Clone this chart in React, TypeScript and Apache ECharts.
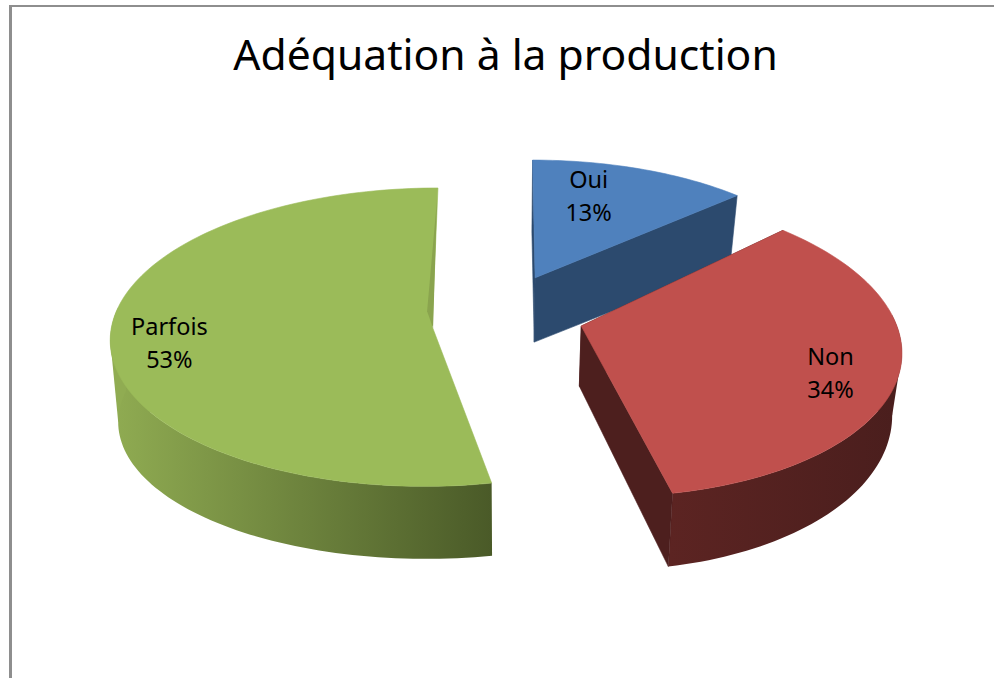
import React, { useEffect, useRef } from "react";
import * as echarts from "echarts";

const TITLE = "Adéquation à la production";
const CATEGORIES = ["Oui", "Non", "Parfois"];
const VALUES = [13, 34, 53];

const TOP_COLORS = ["#4f81bd", "#c0504d", "#9bbb59"];
const RADIAL_COLORS = ["#2c4a6e", "#4d1f1e", "#4a5a28"];
const WALL_LEFT = ["#2c4a6e", "#5c2422", "#90ac52"];
const WALL_RIGHT = ["#2c4a6e", "#4a1e1d", "#4a5a28"];

// projection of the tilted pie plane
const CX = 509, CY = 318, RX = 320, RY = 149, PERSP = 0.115;
// per-slice layout
const DROP = [0.035, 0.025, 0.02];
const EXPLODE_U = [0.084, 0.238, -0.24];
const EXPLODE_V = [-0.257, 0.0535, 0.015];
const RIM_U = [0.965, 0.965, 0.995];
const RIM_V = [0.95, 1, 0.985];
const SKEW = [0, 11, 2];
const APEX_DX = [0, -5, 0];
const APEX_DY = [-3, 0, 6];
const DEPTH_BASE = [60, 61, 85];
const DEPTH_SLOPE = [-15.4, 9.5, -16];
const LABEL_NUDGE = [[-33, 6], [-4, 8], [-6, 11]];
const FONT = '"Noto Sans", sans-serif';

const total = VALUES.reduce((a, b) => a + b, 0);

function project(i: number, theta: number, r: number, bottom: boolean): number[] {
  const u = r * RIM_U[i] * Math.sin(theta) + EXPLODE_U[i];
  const v = -r * RIM_V[i] * Math.cos(theta) + EXPLODE_V[i];
  const w = 1 - PERSP * v + (bottom ? DROP[i] : 0);
  const d = bottom ? DEPTH_BASE[i] + DEPTH_SLOPE[i] * v : 0;
  return [CX + (RX * u) / w + SKEW[i] * v, CY + (RY * v + d) / w];
}

function extreme(points: number[][], sign: number): number[] {
  return points.reduce((best, p) => (p[0] * sign > best[0] * sign ? p : best), points[0]);
}

function renderItem(params: any, api: any) {
  const i = params.dataIndex;
  const value = api.value(0);
  let before = 0;
  for (let k = 0; k < i; k++) before += VALUES[k];
  const a0 = (before / total) * Math.PI * 2;
  const a1 = ((before + value) / total) * Math.PI * 2;
  const steps = Math.max(8, Math.round((a1 - a0) * 40));
  const topRim: number[][] = [];
  const botRim: number[][] = [];
  const wallTop: number[][] = [];
  const wallBot: number[][] = [];
  for (let s = 0; s <= steps; s++) {
    const t = a0 + ((a1 - a0) * s) / steps;
    const pt = project(i, t, 1, false);
    const pb = project(i, t, 1, true);
    topRim.push(pt);
    botRim.push(pb);
    if (-Math.cos(t) > -0.1) {
      wallTop.push(pt);
      wallBot.push(pb);
    }
  }
  const apexT = project(i, a0, 0, false);
  apexT[0] += APEX_DX[i];
  apexT[1] += APEX_DY[i];
  const apexB = project(i, a0, 0, true);
  apexB[0] += APEX_DX[i];
  const radial = (n: number) => ({
    type: "polygon",
    shape: {
      points: [apexT, n === 0 ? topRim[0] : topRim[steps], n === 0 ? botRim[0] : botRim[steps], apexB],
    },
    style: { fill: RADIAL_COLORS[i], stroke: RADIAL_COLORS[i], lineWidth: 0.6 },
  });
  const children: any[] = [];
  if (i !== 2) children.push(radial(0));
  if (wallTop.length > 1) {
    // straight silhouette between the outermost points of both rims
    const side = EXPLODE_U[i] < 0 ? -1 : 1;
    children.push({
      type: "polygon",
      shape: { points: [extreme(topRim, side), extreme(botRim, side), apexT] },
      style: { fill: side < 0 ? WALL_LEFT[i] : WALL_RIGHT[i] },
    });
    children.push({
      type: "polygon",
      shape: { points: [...wallTop, ...wallBot.slice().reverse()] },
      style: {
        fill: new echarts.graphic.LinearGradient(0, 0, 1, 0, [
          { offset: 0, color: WALL_LEFT[i] },
          { offset: 1, color: WALL_RIGHT[i] },
        ]),
      },
    });
  }
  if (i !== 2) children.push(radial(1));
  children.push({
    type: "polygon",
    shape: { points: [apexT, ...topRim] },
    style: { fill: TOP_COLORS[i], stroke: TOP_COLORS[i], lineWidth: 0.6 },
  });
  if (i === 2) {
    // darker sliver along the closing radius of the large slice
    const rim = topRim[steps];
    children.push({
      type: "polygon",
      shape: {
        points: [
          [rim[0] - 1, rim[1] + 12],
          [apexT[0] + 1, apexT[1] + 2],
          [apexT[0] - 5, apexT[1] - 15],
        ],
      },
      style: { fill: "#8aa44e" },
    });
  }
  const mid = (a0 + a1) / 2;
  const lp = project(i, mid, 0.8, false);
  children.push({
    type: "text",
    x: lp[0] + LABEL_NUDGE[i][0],
    y: lp[1] + LABEL_NUDGE[i][1],
    style: {
      text: `${CATEGORIES[i]}\n${Math.round((value / total) * 100)}%`,
      fill: "#000000",
      font: `23.5px ${FONT}`,
      lineHeight: 33,
      align: "center",
      verticalAlign: "middle",
    },
  });
  return { type: "group", children };
}

export default function App() {
  const ref = useRef<HTMLDivElement>(null);
  useEffect(() => {
    document.body.style.margin = "0";
    document.body.style.overflow = "hidden";
    const chart = echarts.init(ref.current!, undefined, { renderer: "svg" });
    chart.setOption({
      animation: false,
      backgroundColor: "#ffffff",
      title: {
        text: TITLE,
        left: 500.5,
        top: 26,
        textAlign: "center",
        textStyle: { fontFamily: FONT, fontSize: 42.6, fontWeight: "normal", color: "#000000" },
      },
      graphic: [
        { type: "rect", shape: { x: 9, y: 5, width: 3, height: 673 }, style: { fill: "#8e8e8e" } },
        { type: "rect", shape: { x: 9, y: 5, width: 985, height: 2 }, style: { fill: "#8e8e8e" } },
      ],
      series: [
        {
          type: "custom",
          coordinateSystem: "none",
          renderItem,
          data: VALUES.map((v, i) => ({ name: CATEGORIES[i], value: v })),
        },
      ],
    });
    return () => chart.dispose();
  }, []);
  return <div ref={ref} style={{ width: 994, height: 678 }} />;
}
